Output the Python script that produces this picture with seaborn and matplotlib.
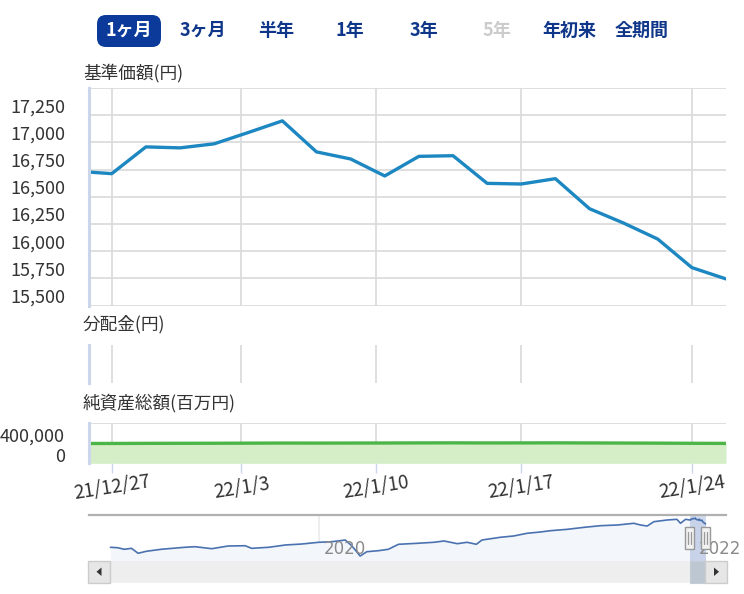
import numpy as np
import pandas as pd
import matplotlib
matplotlib.use("Agg")
import matplotlib.pyplot as plt
import matplotlib.dates as mdates
import matplotlib.transforms as mtransforms
from matplotlib.patches import FancyBboxPatch, Rectangle, Polygon
import seaborn as sns

# ---------------- data ----------------
trade_dates = ['2021-12-24', '2021-12-27', '2021-12-28', '2021-12-29', '2021-12-30',
               '2022-01-04', '2022-01-05', '2022-01-06', '2022-01-07', '2022-01-11',
               '2022-01-12', '2022-01-13', '2022-01-14', '2022-01-17', '2022-01-18',
               '2022-01-19', '2022-01-20', '2022-01-21', '2022-01-24', '2022-01-25']
nav_price = [16735, 16713, 16959, 16950, 16987, 17091, 17198, 16913, 16848, 16692,
             16872, 16878, 16624, 16618, 16667, 16391, 16259, 16112, 15850, 15746]
net_assets = [396000, 397000, 399000, 400000, 401000, 403000, 405000, 404000, 405000, 406000,
              408000, 409000, 407000, 408000, 409000, 407000, 405000, 403000, 400000, 398000]
range_start = '2021-12-25'
tick_dates = ['2021-12-27', '2022-01-03', '2022-01-10', '2022-01-17', '2022-01-24']
tick_labels = ['21/12/27', '22/1/3', '22/1/10', '22/1/17', '22/1/24']
price_ticks = [15500, 15750, 16000, 16250, 16500, 16750, 17000, 17250, 17500]
asset_ticks = [0, 400000, 800000]

hist_dates = ['2018-11-19', '2018-12-03', '2018-12-16', '2018-12-30', '2019-01-12', '2019-01-28',
              '2019-02-26', '2019-04-13', '2019-05-03', '2019-06-05', '2019-07-07', '2019-08-09',
              '2019-08-22', '2019-09-24', '2019-10-27', '2019-11-28', '2019-12-31', '2020-01-26',
              '2020-02-21', '2020-03-05', '2020-03-21', '2020-04-03', '2020-04-26', '2020-05-15',
              '2020-06-04', '2020-07-10', '2020-08-12', '2020-09-01', '2020-09-27', '2020-10-16',
              '2020-11-03', '2020-11-14', '2020-12-20', '2021-01-15', '2021-02-10', '2021-03-08',
              '2021-03-28', '2021-04-30', '2021-06-02', '2021-07-04', '2021-08-06', '2021-09-07',
              '2021-09-20', '2021-10-03', '2021-10-16', '2021-11-11', '2021-11-30', '2021-12-07',
              '2021-12-17']
hist_values = [10000, 9900, 9510, 9750, 8530, 9020, 9510, 10000, 10150, 9660, 10320, 10390,
               9750, 10000, 10570, 10810, 11230, 11380, 11790, 10320, 7860, 8920, 9170, 9510,
               10740, 10980, 11230, 11550, 10890, 11230, 10740, 11790, 12460, 12780, 13440, 13760,
               14080, 14420, 14910, 15310, 15480, 15900, 15480, 15230, 16290, 16710, 16880, 15900,
               16880]
year_ticks = ['2020-01-01', '2022-01-01']
year_labels = ['2020', '2022']
nav_xlim = ('2018-10-08', '2022-03-06')
nav_ylim = (6634, 17936)

buttons = ['1ヶ月', '3ヶ月', '半年', '1年', '3年', '5年', '年初来', '全期間']
button_x = [129, 203, 276, 350, 424, 497, 569, 642]
disabled = ['5年']
selected = '1ヶ月'

# ---------------- style ----------------
sns.set_theme(style="white")
plt.rcParams['font.family'] = ['Noto Sans CJK JP', 'DejaVu Sans']

W, H = 744, 594
fig = plt.figure(figsize=(W / 100, H / 100), dpi=100)

GRID = '#dcdcdc'
AXBLUE = '#ccd6eb'
TXT = '#333333'


def add_ax(x0, y0, x1, y1):
    return fig.add_axes([x0 / W, 1 - y1 / H, (x1 - x0) / W, (y1 - y0) / H])


td = pd.to_datetime(trade_dates)
t_ord = np.array([d.toordinal() for d in td], dtype=float)
pos = np.arange(len(td), dtype=float)
tick_pos = np.interp([pd.Timestamp(d).toordinal() for d in tick_dates], t_ord, pos)
x_left = np.interp(pd.Timestamp(range_start).toordinal(), t_ord, pos)
xlim = (x_left, pos[-1])

df = pd.DataFrame({'pos': pos, 'price': nav_price, 'assets': net_assets})


def style_panel(ax, yticks=None):
    ax.set_xlim(*xlim)
    ax.set_xticks(tick_pos)
    if yticks is not None:
        ax.set_yticks(yticks)
        ax.yaxis.grid(True, color=GRID, lw=1.3)
    else:
        ax.set_yticks([])
    ax.xaxis.grid(True, color=GRID, lw=1.3)
    ax.tick_params(axis='both', length=0, labelleft=False, labelbottom=False)
    for s in ['top', 'right', 'bottom']:
        ax.spines[s].set_visible(False)
    ax.spines['left'].set_color(AXBLUE)
    ax.spines['left'].set_linewidth(2.2)
    ax.set_facecolor('white')
    ax.set_xlabel('')
    ax.set_ylabel('')


def ylabels(ax, ticks, labels, off=8.0):
    tr = mtransforms.blended_transform_factory(fig.transFigure, ax.transData) + \
        mtransforms.ScaledTranslation(0, off / 100, fig.dpi_scale_trans)
    for v, lab in zip(ticks, labels):
        ax.text(65 / W, v, lab, transform=tr, ha='right', va='center', fontsize=13,
                color=TXT)


# ---- main price panel ----
ax1 = add_ax(89, 88, 726, 305.7)
sns.lineplot(data=df, x='pos', y='price', ax=ax1, color='#1d87c2', lw=2.4)
ax1.set_ylim(price_ticks[0], price_ticks[-1])
style_panel(ax1, price_ticks)
ylabels(ax1, price_ticks[:-1], [f'{v:,}' for v in price_ticks[:-1]])

# ---- distribution panel ----
ax2 = add_ax(89, 345, 726, 383.3)
style_panel(ax2, None)

# ---- net assets panel ----
ax3 = add_ax(89, 423.3, 726, 463.3)
ax3.fill_between(df['pos'], df['assets'], 0, color='#d5eec8', lw=0)
sns.lineplot(data=df, x='pos', y='assets', ax=ax3, color='#4cb547', lw=2.4)
ax3.set_ylim(asset_ticks[0], asset_ticks[-1])
style_panel(ax3, asset_ticks)
ylabels(ax3, asset_ticks[:-1], [f'{v:,}' for v in asset_ticks[:-1]], off=6.5)
# tick marks below
ax3.tick_params(axis='x', length=7.5, width=1, color=AXBLUE, direction='out', bottom=True)
trx = mtransforms.blended_transform_factory(ax3.transData, ax3.transAxes) + \
    mtransforms.ScaledTranslation(0, -24.5 / 100, fig.dpi_scale_trans)
for p, lab in zip(tick_pos, tick_labels):
    ax3.text(p, 0, lab, transform=trx, ha='center', va='center', rotation=9,
             rotation_mode='anchor', fontsize=13.5, color=TXT)

# ---- panel titles ----
for y, t in [(73.5, '基準価額(円)'), (324, '分配金(円)'), (403.5, '純資産総額(百万円)')]:
    fig.text(83 / W, 1 - y / H, t, ha='left', va='center', fontsize=12.7, color=TXT)

# ---- navigator ----
axn = add_ax(89, 515, 726, 561)
hd = pd.to_datetime(hist_dates)
nav_df = pd.DataFrame({'date': list(hd) + list(td), 'value': hist_values + nav_price})
axn.fill_between(nav_df['date'], nav_df['value'], nav_ylim[0], color='#f3f6fb', lw=0)
sns.lineplot(data=nav_df, x='date', y='value', ax=axn, color='#4a72b0', lw=1.2, zorder=3)
axn.set_xlim(pd.Timestamp(nav_xlim[0]), pd.Timestamp(nav_xlim[1]))
axn.set_ylim(*nav_ylim)
axn.set_xticks(pd.to_datetime(year_ticks))
axn.xaxis.grid(True, color='#ebebeb', lw=1.2)
axn.set_yticks([])
axn.tick_params(axis='both', length=0, labelbottom=False)
for s in ['left', 'right', 'bottom']:
    axn.spines[s].set_visible(False)
axn.spines['top'].set_color('#b0b0b0')
axn.spines['top'].set_linewidth(1.6)
axn.set_xlabel('')
axn.set_ylabel('')
trn = mtransforms.blended_transform_factory(axn.transData, axn.transAxes) + \
    mtransforms.ScaledTranslation(5 / 100, 0, fig.dpi_scale_trans)
for d, lab in zip(year_ticks, year_labels):
    axn.text(mdates.date2num(pd.Timestamp(d)), 0.27, lab, transform=trn, ha='left',
             va='center', fontsize=12, color='#8a8a8a', family='DejaVu Sans', clip_on=False)
m0 = pd.Timestamp(range_start)
m1 = td[-1]
axn.axvspan(m0, m1, color=(102 / 255, 133 / 255, 194 / 255), alpha=0.3, lw=0, zorder=2)

fig.canvas.draw()
px0 = axn.transData.transform((mdates.date2num(m0), 0))[0]
px1 = axn.transData.transform((mdates.date2num(m1), 0))[0]


def frect(x0, y0, x1, y1, **kw):
    r = Rectangle((x0 / W, 1 - y1 / H), (x1 - x0) / W, (y1 - y0) / H,
                  transform=fig.transFigure, **kw)
    fig.add_artist(r)
    return r


# scrollbar
frect(88, 561, 727, 582.5, facecolor='#eeeeee', edgecolor='none', zorder=5)
frect(px0, 561, px1, 582.5, facecolor='#bdc7d2', edgecolor='#c4ccd6', lw=0.8, zorder=6)
frect(88, 561, 110, 582.5, facecolor='#e6e6e6', edgecolor='#cccccc', lw=1, zorder=6)
frect(705, 561, 727, 582.5, facecolor='#e6e6e6', edgecolor='#cccccc', lw=1, zorder=6)
for pts in ([(101.5, 567.5), (101.5, 576), (96.5, 571.75)],
            [(714, 567.5), (714, 576), (719, 571.75)]):
    fig.add_artist(Polygon([(x / W, 1 - y / H) for x, y in pts], closed=True,
                           transform=fig.transFigure, facecolor='#333333', edgecolor='none',
                           zorder=7))
# handles
for hx in (px0, px1):
    frect(hx - 4.5, 527, hx + 4.5, 549, facecolor='#f2f2f2', edgecolor='#999999', lw=1, zorder=8)
    for dx in (-1.5, 1.5):
        fig.add_artist(plt.Line2D([(hx + dx) / W] * 2, [1 - 532 / H, 1 - 544 / H],
                                  transform=fig.transFigure, color='#999999', lw=0.9, zorder=9))

# ---- range buttons ----
sel_i = buttons.index(selected)
bx = button_x[sel_i]
fig.add_artist(FancyBboxPatch(((bx - 32) / W, 1 - 47 / H), 64 / W, 32 / H,
                              boxstyle='round,pad=0,rounding_size=0.012',
                              transform=fig.transFigure, facecolor='#0b3a9b',
                              edgecolor='none', mutation_aspect=W / H))
for b, x in zip(buttons, button_x):
    if b == selected:
        c = 'white'
    elif b in disabled:
        c = '#cccccc'
    else:
        c = '#0f3689'
    fig.text(x / W, 1 - 30.5 / H, b, ha='center', va='center', fontsize=13,
             fontweight='bold', color=c)

fig.savefig('out.png', dpi=100, facecolor='white')
